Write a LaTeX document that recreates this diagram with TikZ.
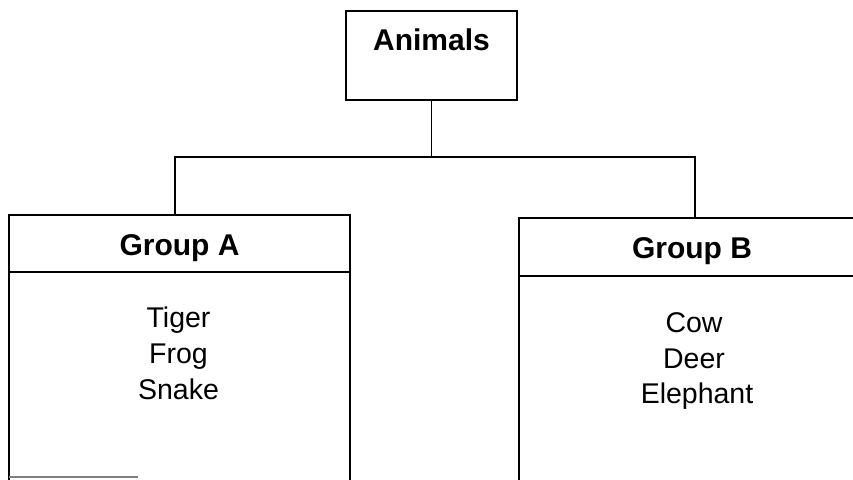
\documentclass[tikz,border=0pt]{standalone}
\usepackage{fontspec}
\setmainfont{Liberation Sans}
\begin{document}
\begin{tikzpicture}[x=1pt,y=1pt,
  boxline/.style={draw=black,line width=1.8pt,rectangle,inner sep=0pt},
  conn/.style={draw=black,line width=1.4pt},
  headtext/.style={font=\fontsize{30}{36}\selectfont\bfseries,anchor=base,inner sep=0pt},
  itemtext/.style={font=\fontsize{28.5}{36}\selectfont,anchor=base,inner sep=0pt}]
\useasboundingbox (0,0) rectangle (853,-479);
\fill[white] (0,0) rectangle (853,-479);
\clip (0,0) rectangle (853,-479);
% Animals box
\node[boxline,minimum width=171pt,minimum height=89pt] (animals) at (431.5,-55.5) {};
\node[headtext] (animalsT) at (431.5,-50) {Animals};
% Group A
\node[boxline,minimum width=341pt,minimum height=57pt] (ga) at (179.5,-243.5) {};
\node[boxline,minimum width=341pt,minimum height=240pt] (gabody) at (179.5,-392) {};
\node[headtext] (gaT) at (179.5,-255) {Group A};
\node[itemtext] (a1) at (178.5,-327) {Tiger};
\node[itemtext] (a2) at (178.5,-363) {Frog};
\node[itemtext] (a3) at (178.5,-399) {Snake};
% Group B
\node[boxline,minimum width=352pt,minimum height=58pt] (gb) at (695,-247) {};
\node[boxline,minimum width=352pt,minimum height=240pt] (gbbody) at (695,-396) {};
\node[headtext] (gbT) at (692,-258) {Group B};
\node[itemtext] (b1) at (694,-332) {Cow};
\node[itemtext] (b2) at (694,-368) {Deer};
\node[itemtext] (b3) at (697,-403) {Elephant};
% connectors
\coordinate (bus) at (animals.south |- 0,-157);
\draw[conn] (animals.south) -- (bus);
\draw[conn] ([xshift=-4.5pt]ga.north) |- (bus) -| (gb.north);
% faint bottom stroke
\draw[gray,line width=1.2pt] (9,-477) -- (138,-477);
\end{tikzpicture}
\end{document}
